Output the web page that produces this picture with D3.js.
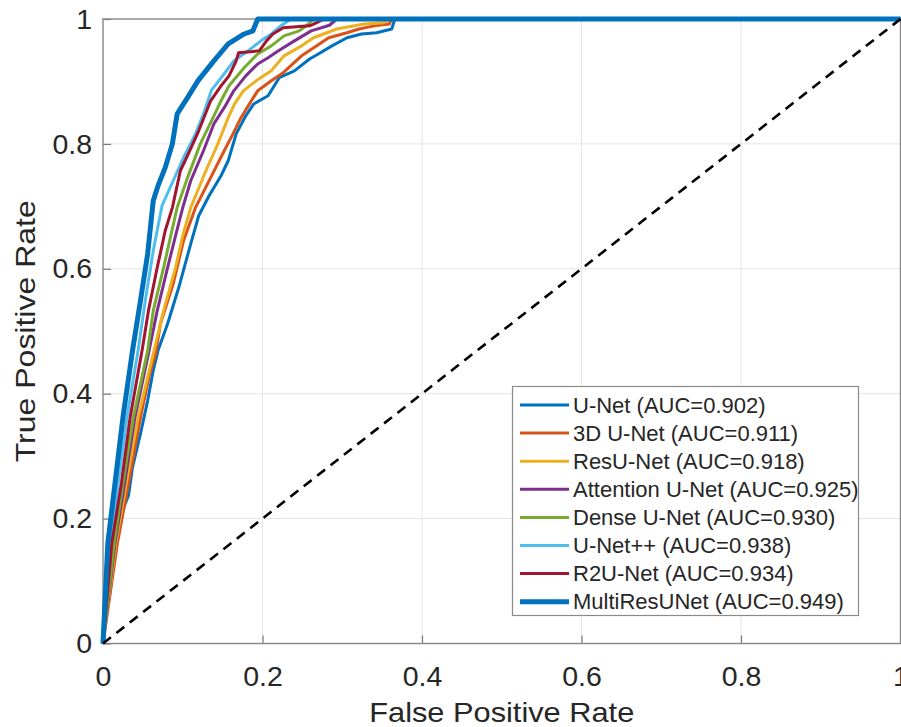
<!DOCTYPE html>
<html>
<head>
<meta charset="utf-8">
<script src="https://cdn.jsdelivr.net/npm/d3@7"></script>
<style>
  html, body { margin: 0; padding: 0; background: #fff; }
  svg { display: block; font-family: "Liberation Sans", Arial, Helvetica, sans-serif; }
</style>
</head>
<body>
<svg id="chart" width="901" height="727"></svg>
<script>
// ROC curves of the segmentation models (false positive rate vs. true positive rate)
const modelNames = ["U-Net", "3D U-Net", "ResU-Net", "Attention U-Net", "Dense U-Net", "U-Net++", "R2U-Net", "MultiResUNet"];
const aucValues = [0.902, 0.911, 0.918, 0.925, 0.930, 0.938, 0.934, 0.949];

const fprUNet = [0,0.013,0.021,0.032,0.037,0.047,0.056,0.063,0.069,0.081,0.095,0.110,0.120,0.133,0.148,0.157,0.167,0.179,0.189,0.207,0.221,0.240,0.259,0.270,0.287,0.306,0.324,0.343,0.362,0.366,1];
const tprUNet = [0,0.149,0.202,0.237,0.282,0.336,0.389,0.437,0.469,0.512,0.570,0.640,0.685,0.717,0.749,0.773,0.816,0.845,0.864,0.877,0.906,0.917,0.936,0.944,0.957,0.970,0.976,0.978,0.984,1,1];

const fpr3DUNet = [0,0.018,0.032,0.047,0.058,0.066,0.072,0.088,0.101,0.116,0.135,0.152,0.163,0.173,0.186,0.194,0.211,0.226,0.249,0.268,0.283,0.306,0.321,0.340,0.359,0.362,1];
const tpr3DUNet = [0,0.160,0.256,0.362,0.429,0.464,0.512,0.576,0.645,0.698,0.746,0.789,0.816,0.842,0.869,0.885,0.901,0.914,0.941,0.957,0.970,0.978,0.984,0.989,0.992,1,1];

const fprResUNet = [0,0.016,0.029,0.044,0.063,0.076,0.091,0.100,0.110,0.129,0.144,0.157,0.165,0.176,0.192,0.211,0.227,0.249,0.264,0.293,0.327,0.352,0.360,1];
const tprResUNet = [0,0.160,0.256,0.362,0.464,0.533,0.602,0.653,0.698,0.757,0.800,0.842,0.864,0.885,0.901,0.917,0.941,0.957,0.970,0.984,0.992,0.994,1,1];

const fprAttention = [0,0.015,0.027,0.040,0.057,0.068,0.081,0.091,0.100,0.110,0.126,0.139,0.152,0.164,0.179,0.194,0.207,0.220,0.240,0.261,0.284,0.293,1];
const tprAttention = [0,0.160,0.256,0.362,0.464,0.533,0.602,0.653,0.698,0.741,0.789,0.832,0.858,0.885,0.909,0.928,0.938,0.949,0.965,0.981,0.990,1,1];

const fprDense = [0,0.014,0.025,0.038,0.056,0.063,0.076,0.085,0.093,0.106,0.122,0.138,0.148,0.158,0.177,0.194,0.211,0.227,0.246,0.255,0.264,1];
const tprDense = [0,0.160,0.256,0.362,0.469,0.533,0.602,0.653,0.698,0.746,0.800,0.842,0.869,0.893,0.922,0.944,0.957,0.973,0.981,0.989,1,1];

const fprUNetPP = [0,0.010,0.019,0.030,0.044,0.053,0.063,0.074,0.088,0.101,0.116,0.126,0.136,0.150,0.164,0.182,0.198,0.211,0.223,0.236,1];
const tprUNetPP = [0,0.160,0.256,0.362,0.469,0.549,0.629,0.701,0.741,0.778,0.816,0.848,0.886,0.909,0.933,0.949,0.965,0.976,0.989,1,1];

const fprR2U = [0,0.011,0.023,0.034,0.049,0.057,0.068,0.078,0.087,0.097,0.107,0.120,0.135,0.148,0.158,0.167,0.170,0.196,0.205,0.213,0.226,0.259,0.268,0.277,1];
const tprR2U = [0,0.160,0.256,0.362,0.469,0.533,0.602,0.661,0.698,0.757,0.784,0.821,0.869,0.893,0.909,0.933,0.946,0.949,0.965,0.976,0.986,0.989,0.994,1,1];

const fprMultiRes = [0,0.006,0.015,0.025,0.037,0.047,0.056,0.063,0.069,0.078,0.087,0.093,0.106,0.119,0.139,0.157,0.177,0.188,0.194,1];
const tprMultiRes = [0,0.160,0.256,0.362,0.469,0.549,0.624,0.709,0.733,0.762,0.800,0.848,0.874,0.901,0.933,0.960,0.976,0.981,1,1];

const tickValues = [0, 0.2, 0.4, 0.6, 0.8, 1];
const xTickLabels = ["0", "0.2", "0.4", "0.6", "0.8", "1"];
const yTickLabels = ["0", "0.2", "0.4", "0.6", "0.8", "1"];

// styling (MATLAB default line colours)
const lineColors = ["#0072BD", "#D95319", "#EDB120", "#7E2F8E", "#77AC30", "#4DBEEE", "#A2142F", "#0072BD"];
const lineWidths = [3, 3, 3, 3, 3, 3, 3, 5];

const fprSets = [fprUNet, fpr3DUNet, fprResUNet, fprAttention, fprDense, fprUNetPP, fprR2U, fprMultiRes];
const tprSets = [tprUNet, tpr3DUNet, tprResUNet, tprAttention, tprDense, tprUNetPP, tprR2U, tprMultiRes];

const series = modelNames.map((name, i) => ({
  name, auc: aucValues[i], color: lineColors[i], width: lineWidths[i],
  points: fprSets[i].map((f, j) => [f, tprSets[i][j]])
}));

const svg = d3.select("#chart");
const plot = { left: 103, right: 900.5, top: 19, bottom: 643.5 };

const x = d3.scaleLinear().domain([0, 1]).range([plot.left, plot.right]);
const y = d3.scaleLinear().domain([0, 1]).range([plot.bottom, plot.top]);

// grid
const grid = svg.append("g").attr("stroke", "#e4e4e4").attr("stroke-width", 1);
tickValues.filter(v => v > 0 && v < 1).forEach(v => {
  grid.append("line").attr("x1", x(v)).attr("x2", x(v)).attr("y1", y(0)).attr("y2", y(1));
  grid.append("line").attr("x1", x(0)).attr("x2", x(1)).attr("y1", y(v)).attr("y2", y(v));
});

// axes with inward ticks
const xAxis = d3.axisBottom(x).tickValues(tickValues)
  .tickFormat((d, i) => xTickLabels[i]).tickSizeInner(-8).tickSizeOuter(0).tickPadding(22);
const yAxis = d3.axisLeft(y).tickValues(tickValues)
  .tickFormat((d, i) => yTickLabels[i]).tickSizeInner(-8).tickSizeOuter(0).tickPadding(11);

const gx = svg.append("g").attr("transform", `translate(0,${plot.bottom})`).call(xAxis);
const gy = svg.append("g").attr("transform", `translate(${plot.left},0)`).call(yAxis);
[gx, gy].forEach(g => {
  g.select(".domain").remove();
  g.selectAll(".tick line").attr("stroke", "#7a7a7a").attr("stroke-width", 1.2);
  g.selectAll(".tick text").attr("fill", "#262626").attr("font-size", 28.5)
    .attr("font-family", "'Liberation Sans', Arial, sans-serif");
});

// axes box
svg.append("rect")
  .attr("x", plot.left).attr("y", plot.top)
  .attr("width", plot.right - plot.left).attr("height", plot.bottom - plot.top)
  .attr("fill", "none").attr("stroke", "#858585").attr("stroke-width", 1.4);

// ROC curves
const line = d3.line().x(d => x(d[0])).y(d => y(d[1]));
svg.append("g").selectAll("path").data(series).join("path")
  .attr("d", d => line(d.points))
  .attr("fill", "none")
  .attr("stroke", d => d.color)
  .attr("stroke-width", d => d.width)
  .attr("stroke-linejoin", "round");

// chance diagonal
svg.append("path")
  .attr("d", line([[0, 0], [1, 1]]))
  .attr("fill", "none").attr("stroke", "#000").attr("stroke-width", 2.6)
  .attr("stroke-dasharray", "10,7");

// axis titles
svg.append("text")
  .attr("x", (plot.left + plot.right) / 2).attr("y", 722)
  .attr("text-anchor", "middle").attr("font-size", 28).attr("fill", "#262626")
  .attr("textLength", 265).attr("lengthAdjust", "spacingAndGlyphs")
  .text("False Positive Rate");

svg.append("text")
  .attr("transform", `translate(35,${(plot.top + plot.bottom) / 2}) rotate(-90)`)
  .attr("text-anchor", "middle").attr("font-size", 28).attr("fill", "#262626")
  .attr("textLength", 262).attr("lengthAdjust", "spacingAndGlyphs")
  .text("True Positive Rate");

// legend
const legend = svg.append("g");
legend.append("rect")
  .attr("x", 512.5).attr("y", 386.5).attr("width", 346).attr("height", 229)
  .attr("fill", "#fff").attr("stroke", "#8a8a8a").attr("stroke-width", 1.2);
const rowY0 = 405, rowStep = 28.1;
series.forEach((s, i) => {
  const yy = rowY0 + i * rowStep;
  legend.append("line")
    .attr("x1", 520).attr("x2", 569).attr("y1", yy).attr("y2", yy)
    .attr("stroke", s.color).attr("stroke-width", s.width);
  legend.append("text")
    .attr("x", 573).attr("y", yy).attr("dy", "0.35em")
    .attr("font-size", 22).attr("fill", "#262626")
    .text(`${s.name} (AUC=${s.auc.toFixed(3)})`);
});
</script>
</body>
</html>
